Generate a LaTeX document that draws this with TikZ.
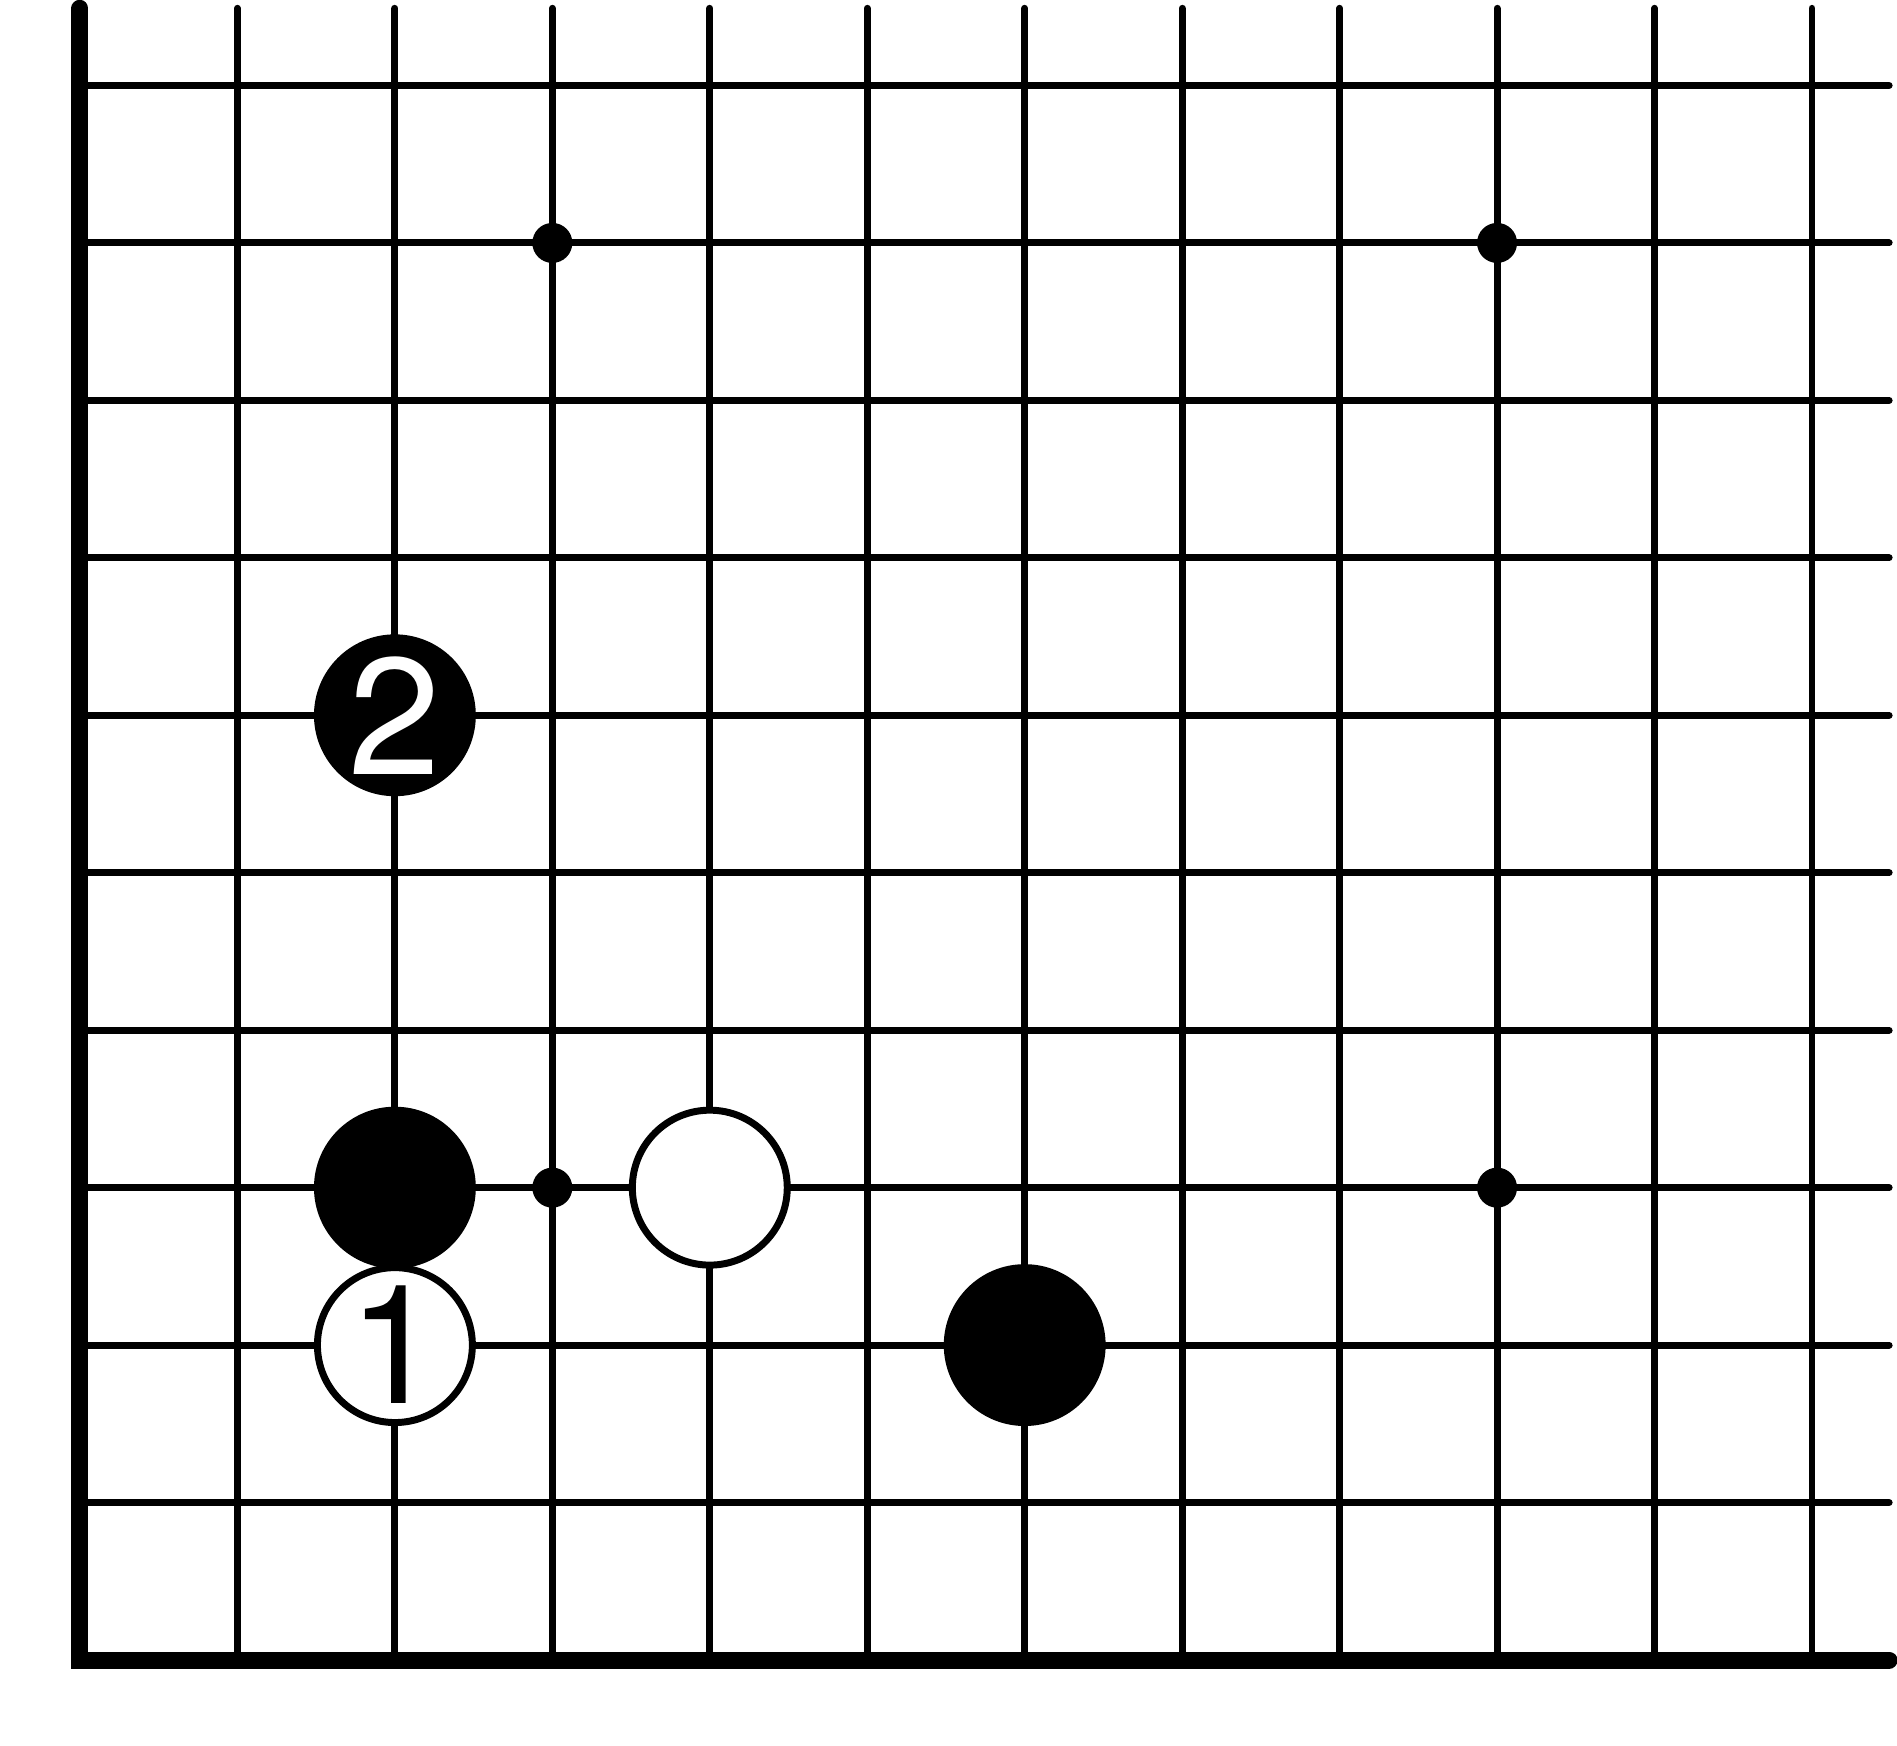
\documentclass[tikz,border=0pt]{standalone}
\usepackage{fontspec}
\newfontfamily\stonefont{TeX Gyre Heros}
\usepackage{tikz}

\begin{document}
\begin{tikzpicture}[line cap=round,
                    thin line/.style={line width=1.26pt},
                    edge line/.style={line width=3.07pt},
                    star point/.style={circle,fill=black,inner sep=0pt,minimum size=0.254cm},
                    black stone/.style={circle,fill=black,inner sep=0pt,minimum size=1.028cm,
                      text=white,font=\stonefont\fontsize{30}{30}\selectfont},
                    white stone/.style={circle,draw,fill=white,line width=1.26pt,inner sep=0pt,
                      minimum size=0.984cm,font=\stonefont\fontsize{30}{30}\selectfont}]

  \useasboundingbox (-0.508,-0.540) rectangle (11.540,10.543);

  % board lines
  \foreach \i in {1,...,10}
    \draw[thin line] (0,\i) -- (11.49,\i);
  \foreach \i in {1,...,11}
    \draw[thin line] (\i,0) -- (\i,10.49);
  \draw[edge line] (0,10.49) -- (0,0) -- (11.49,0);

  % star points
  \node[star point] (s1) at (3,3) {};
  \node[star point] (s2) at (9,3) {};
  \node[star point] (s3) at (3,9) {};
  \node[star point] (s4) at (9,9) {};

  % stones
  \node[black stone] (b1) at (2,3) {};
  \node[black stone] (b2) at (6,2) {};
  \node[white stone] (w1) at (4,3) {};
  \node[white stone] (w2) at (2,2) {1};
  \node[black stone] (b3) at (2,6) {2};
\end{tikzpicture}
\end{document}
